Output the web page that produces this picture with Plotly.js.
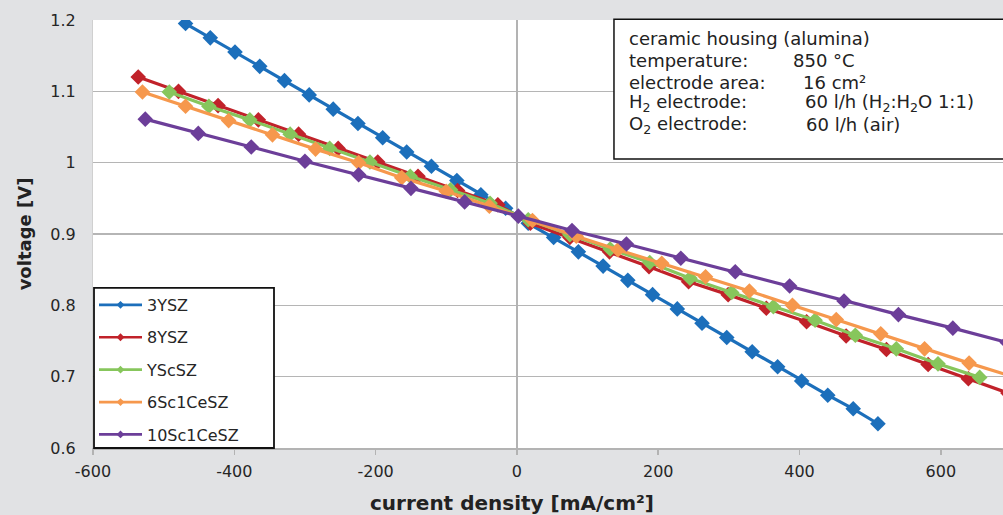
<!DOCTYPE html>
<html>
<head>
<meta charset="utf-8">
<script src="https://cdn.plot.ly/plotly-3.0.1.min.js"></script>
<style>html,body{margin:0;padding:0;background:#e1e2e4;}#chart{width:1003px;height:515px;}</style>
</head>
<body>
<div id="chart"></div>
<script>
// ---- data ----
const seriesNames = ["3YSZ", "8YSZ", "YScSZ", "6Sc1CeSZ", "10Sc1CeSZ"];

const x3YSZ = [-469,-434,-399,-364,-329,-294,-260,-225,-190,-156,-121,-85,-51,-16,16,52,87,122,157,192,227,262,297,333,369,403,440,476,511];
const y3YSZ = [1.195,1.175,1.155,1.135,1.115,1.095,1.075,1.055,1.035,1.015,0.995,0.975,0.955,0.936,0.915,0.895,0.875,0.855,0.835,0.815,0.795,0.775,0.755,0.735,0.714,0.694,0.674,0.655,0.634];

const x8YSZ = [-536,-479,-423,-366,-309,-253,-197,-140,-84,-27,19,75,131,187,243,299,353,410,466,523,582,639,695];
const y8YSZ = [1.120,1.100,1.080,1.060,1.040,1.020,1.001,0.981,0.961,0.941,0.915,0.895,0.875,0.854,0.833,0.815,0.796,0.777,0.757,0.738,0.717,0.697,0.677];

const xYScSZ = [-492,-436,-378,-321,-265,-208,-151,-94,-38,16,75,132,188,245,304,363,422,479,537,596,655];
const yYScSZ = [1.099,1.079,1.060,1.040,1.020,1.001,0.981,0.962,0.943,0.920,0.899,0.879,0.860,0.838,0.818,0.798,0.779,0.758,0.739,0.718,0.699];

const x6Sc1CeSZ = [-530,-469,-408,-346,-285,-224,-163,-100,-39,22,84,143,205,267,329,390,452,515,577,640,702];
const y6Sc1CeSZ = [1.099,1.079,1.059,1.039,1.019,1.000,0.979,0.960,0.939,0.919,0.897,0.878,0.859,0.840,0.820,0.800,0.780,0.760,0.739,0.719,0.700];

const x10Sc1CeSZ = [-526,-451,-376,-300,-224,-150,-74,2,78,155,232,309,386,463,540,617,694];
const y10Sc1CeSZ = [1.061,1.041,1.022,1.002,0.983,0.964,0.945,0.925,0.905,0.886,0.866,0.847,0.827,0.806,0.787,0.768,0.748];

const xTickVals = [-600,-400,-200,0,200,400,600];
const xTickText = ["-600","-400","-200","0","200","400","600"];
const yTickVals = [0.6,0.7,0.8,0.9,1.0,1.1,1.2];
const yTickText = ["0.6","0.7","0.8","0.9","1","1.1","1.2"];

const infoLabels = ["ceramic housing (alumina)", "temperature:", "electrode area:", "H<sub>2</sub> electrode:", "O<sub>2</sub> electrode:"];
const infoValues = ["", "850 °C", "16 cm²", "60 l/h (H<sub>2</sub>:H<sub>2</sub>O 1:1)", "60 l/h (air)"];

// ---- styling ----
const colors = ["#1c6fbb", "#c1222a", "#87c65c", "#f6984d", "#6c3e99"];
const xs = [x3YSZ, x8YSZ, xYScSZ, x6Sc1CeSZ, x10Sc1CeSZ];
const ys = [y3YSZ, y8YSZ, yYScSZ, y6Sc1CeSZ, y10Sc1CeSZ];
const FONT = "DejaVu Sans, Arial, sans-serif";

const traces = seriesNames.map((n, i) => ({
  type: "scatter", mode: "lines+markers", name: n,
  x: xs[i], y: ys[i], showlegend: false,
  line: {color: colors[i], width: 3.2},
  marker: {symbol: "diamond", size: 12, color: colors[i]},
  cliponaxis: true
}));
// legend entries (small symbols as in the reference legend)
const legendTraces = seriesNames.map((n, i) => ({
  type: "scatter", mode: "lines+markers", name: n,
  x: [null], y: [null], legendgroup: "g" + i, showlegend: true,
  line: {color: colors[i], width: 2.7},
  marker: {symbol: "diamond", size: 6, color: colors[i]}
}));

// annotation positions (paper coords)
const lineY = [0.957, 0.906, 0.855, 0.806, 0.755];
const valX = [0.767, 0.767, 0.778, 0.780, 0.781];
const annotations = [];
infoLabels.forEach((t, i) => {
  annotations.push({xref: "paper", yref: "paper", x: 0.5868, y: lineY[i], xanchor: "left", yanchor: "middle",
    text: t, showarrow: false, font: {family: FONT, size: 18, color: "#222"}});
  if (infoValues[i]) annotations.push({xref: "paper", yref: "paper", x: valX[i], y: lineY[i], xanchor: "left", yanchor: "middle",
    text: infoValues[i], showarrow: false, font: {family: FONT, size: 18, color: "#222"}});
});
annotations.push({xref: "paper", yref: "paper", x: 0.4604, y: -0.1285, xanchor: "center", yanchor: "middle",
  text: "current density [mA/cm²]", showarrow: false, font: {family: FONT, size: 20, color: "#222", weight: "bold"}});

const layout = {
  width: 1003, height: 515,
  paper_bgcolor: "#e1e2e4", plot_bgcolor: "#ffffff",
  margin: {l: 93, r: 0, t: 20, b: 67, pad: 0},
  font: {family: FONT, color: "#262626", size: 16},
  xaxis: {
    range: [-600, 688], tickvals: xTickVals, ticktext: xTickText, showgrid: false,
    zeroline: true, zerolinecolor: "#b3b3b3", zerolinewidth: 2,
    ticks: "outside", ticklen: 5, tickcolor: "#b3b3b3", tickwidth: 1.5,
    showline: true, linecolor: "#b3b3b3", linewidth: 1.5,
    tickfont: {family: FONT, size: 16, color: "#262626"}, ticklabelstandoff: 3
  },
  yaxis: {
    range: [0.6, 1.2], tickvals: yTickVals, ticktext: yTickText,
    showgrid: true, gridcolor: "#b5b5b5", gridwidth: 1.5, zeroline: false,
    showline: true, linecolor: "#d0d0d0", linewidth: 1, ticks: "",
    tickfont: {family: FONT, size: 16, color: "#262626"}, ticklabelstandoff: 13,
    title: {text: "voltage [V]", font: {family: FONT, size: 18, color: "#222", weight: "bold"}, standoff: 14}
  },
  legend: {
    x: 0.0011, y: 0.374, xanchor: "left", yanchor: "top", xref: "paper", yref: "paper",
    bgcolor: "rgba(0,0,0,0)", borderwidth: 0,
    font: {family: FONT, size: 16, color: "#262626"},
    traceorder: "grouped", tracegroupgap: 8.6, itemwidth: 43
  },
  shapes: [
    {type: "rect", xref: "paper", yref: "paper", x0: 0.5725, x1: 1.01, y0: 0.675, y1: 1.0016,
      fillcolor: "#ffffff", line: {color: "#111", width: 1.5}, layer: "above"},
    {type: "rect", xref: "paper", yref: "paper", x0: 0.0011, x1: 0.1989, y0: 0.0, y1: 0.374,
      fillcolor: "#ffffff", line: {color: "#111", width: 1.8}, layer: "above"}
  ],
  annotations: annotations,
  showlegend: true
};

Plotly.newPlot("chart", traces.concat(legendTraces), layout, {displayModeBar: false, staticPlot: true});
</script>
</body>
</html>
